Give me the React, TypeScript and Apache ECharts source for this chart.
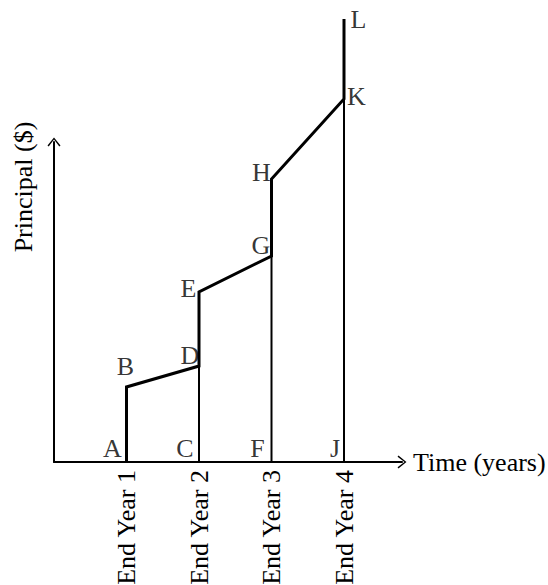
import React, { useEffect, useRef } from "react";
import * as echarts from "echarts";

// Time axis: end of each year
const years = [1, 2, 3, 4];
const yearLabels = ["End Year 1", "End Year 2", "End Year 3", "End Year 4"];

// Named points (x in years, y in principal units)
const pointNames = ["A", "B", "C", "D", "E", "F", "G", "H", "J", "K", "L"];
const pointX = [1, 1, 2, 2, 2, 3, 3, 3, 4, 4, 4];
const pointY = [0, 75, 0, 96, 170, 0, 206, 283, 0, 363, 443];

// Principal growth path (thick)
const pathOrder = ["A", "B", "D", "E", "G", "H", "K", "L"];
// Thin vertical segments at year ends
const thinSegments = [
  ["C", "D"],
  ["F", "G"],
  ["J", "K"],
];

const xAxisMax = 4.8;
const yAxisMax = 320;

// label placement (pixel offsets from the point)
const labelOffsets: Record<string, [number, number]> = {
  A: [-14, -14],
  B: [-1, -21],
  C: [-14, -14],
  D: [-9, -11],
  E: [-10.5, -4],
  F: [-14, -14],
  G: [-10.5, -11],
  H: [-10, -6.5],
  J: [-9, -14],
  K: [12.5, -2.5],
  L: [14.5, 0],
};

const FONT = "'Liberation Serif', 'Times New Roman', serif";
const CHEVRON = "path://M0,8 L6.5,0 L13,8 L11.8,8.9 L6.5,2 L1.2,8.9 Z";

function pt(name: string): [number, number] {
  const i = pointNames.indexOf(name);
  return [pointX[i], pointY[i]];
}

export default function App() {
  const ref = useRef<HTMLDivElement>(null);

  useEffect(() => {
    if (!ref.current) return;
    const chart = echarts.init(ref.current, null, { renderer: "svg" });

    const thinSeries = thinSegments.map((seg) => ({
      type: "line" as const,
      data: seg.map(pt),
      symbol: "none",
      clip: false,
      lineStyle: { color: "#000", width: 2 },
      z: 2,
    }));

    const option: echarts.EChartsOption = {
      animation: false,
      backgroundColor: "#fff",
      grid: {
        left: 54,
        right: 548 - 402,
        top: 142,
        bottom: 123,
        containLabel: false,
        outerBoundsMode: "none",
      } as any,
      xAxis: {
        type: "value",
        min: 0,
        max: xAxisMax,
        interval: 1,
        name: "Time (years)",
        nameLocation: "end",
        nameGap: 11,
        nameTextStyle: {
          fontFamily: FONT,
          fontSize: 26,
          color: "#000",
          align: "left",
          verticalAlign: "middle",
          padding: [0, 0, 10, 0],
        },
        axisLine: {
          show: true,
          onZero: true,
          symbol: ["none", CHEVRON],
          symbolSize: [13, 9],
          lineStyle: { color: "#000", width: 2 },
        },
        axisTick: { show: false },
        splitLine: { show: false },
        axisLabel: {
          show: true,
          rotate: 90,
          margin: 8,
          fontFamily: FONT,
          fontSize: 26,
          color: "#000",
          showMaxLabel: false,
          formatter: (v: number) => {
            const i = years.indexOf(v);
            return i >= 0 ? yearLabels[i] : "";
          },
        },
      },
      yAxis: {
        type: "value",
        min: 0,
        max: yAxisMax,
        name: "Principal ($)",
        nameLocation: "middle",
        nameRotate: 90,
        nameGap: 18,
        nameTextStyle: {
          fontFamily: FONT,
          fontSize: 26,
          color: "#000",
          padding: [0, 0, 0, 230],
        },
        axisLine: {
          show: true,
          symbol: ["none", CHEVRON],
          symbolSize: [13, 9],
          lineStyle: { color: "#000", width: 2 },
        },
        axisTick: { show: false },
        axisLabel: { show: false },
        splitLine: { show: false },
      },
      series: [
        {
          type: "line",
          data: pathOrder.map(pt),
          symbol: "none",
          clip: false,
          lineStyle: { color: "#000", width: 3, join: "miter" } as any,
          z: 3,
        },
        ...thinSeries,
        {
          type: "scatter",
          clip: false,
          symbolSize: 1,
          itemStyle: { color: "rgba(0,0,0,0)" },
          data: pointNames.map((n, i) => ({
            name: n,
            value: [pointX[i], pointY[i]],
            label: {
              show: true,
              formatter: n,
              position: "inside",
              offset: labelOffsets[n],
              fontFamily: FONT,
              fontSize: 26,
              color: "#000",
              textBorderWidth: 0,
              textBorderColor: "transparent",
              align: "center",
              verticalAlign: "middle",
            },
          })),
          z: 4,
        },
      ] as any,
    };

    chart.setOption(option);
    return () => chart.dispose();
  }, []);

  return (
    <div
      ref={ref}
      style={{ position: "fixed", left: 0, top: 0, width: 548, height: 585, background: "#fff" }}
    />
  );
}
